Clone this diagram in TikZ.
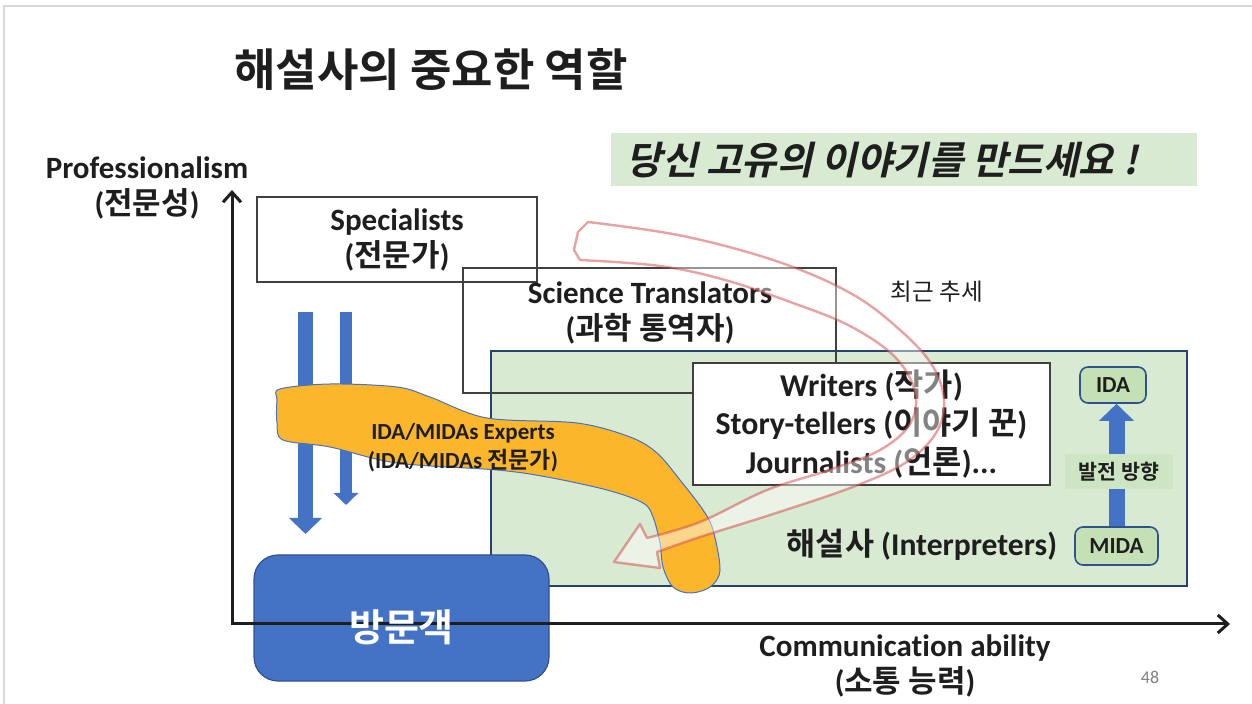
\documentclass[tikz,border=0pt]{standalone}
\usepackage{fontspec}
\setmainfont{Carlito}[Ligatures=NoCommon]
\newfontfamily\kor{Noto Sans CJK KR}[BoldFont={Noto Sans CJK KR Bold}]
\newfontfamily\korit{Noto Sans CJK KR}[BoldFont={Noto Sans CJK KR Bold},FakeSlant=0.22]
\usetikzlibrary{arrows.meta,positioning}
\definecolor{slidegreen}{RGB}{217,234,211}
\definecolor{pillgreen}{RGB}{197,224,180}
\definecolor{tagreen}{RGB}{205,229,194}
\definecolor{navy}{RGB}{47,82,143}
\definecolor{ppblue}{RGB}{68,114,196}
\definecolor{blobfill}{RGB}{251,182,43}
\definecolor{ink}{RGB}{30,30,30}
\definecolor{arcred}{RGB}{210,70,70}
\begin{document}
\begin{tikzpicture}[x=0.5pt,y=-0.5pt,
    lbl/.style={font=\bfseries\fontsize{15.5}{18}\selectfont, align=center, text=ink, inner sep=0},
    tbox/.style={draw=ink!85, line width=0.6pt, inner sep=0},
    pill/.style={draw=navy, line width=0.8pt, fill=pillgreen, rounded corners=4pt, inner sep=0,
        font=\bfseries\fontsize{11.5}{13}\selectfont, text=ink},
    axis/.style={ink, line width=1.5pt, line join=miter},
    downarrow/.style={ppblue, line width=#1}]
\useasboundingbox (0,0) rectangle (1252,704);
\draw[gray!30, line width=0.8pt] (4,704) -- (4,6) -- (1252,6); % frame

\node[text=ink, font=\kor\bfseries\fontsize{22.5}{26}\selectfont] (title) at (431,70) {해설사의 중요한 역할}; % title
\node[fill=slidegreen, minimum width=293pt, minimum height=26.5pt, inner sep=0] (banner) at (904,159.5) {}; % banner
\node[text=ink, font=\korit\bfseries\fontsize{19.3}{21}\selectfont] (motto) at (882,160) {당신 고유의 이야기를 만드세요 !}; % banner

\node[lbl] (ylabel) at (147,188) {Professionalism\\({\kor 전문성})}; % y axis

\node[tbox, lbl, fill=white, minimum width=140pt, minimum height=42.5pt] (spec) at (397,239.5) {Specialists\\({\kor 전문가})}; % box.1
\node[tbox, draw=navy!80!black, fill=slidegreen, minimum width=348pt, minimum height=117.5pt] (interp) at (839,468.5) {}; % box.3
\node[tbox, minimum width=186.5pt, minimum height=62.5pt] (sci) at (649.5,330.5) {}; % box.2
\node[lbl] (scitext) at (650,313) {Science Translators\\({\kor 과학 통역자})}; % box.2
\node[tbox, lbl, fill=white, minimum width=178.5pt, minimum height=61pt,
    font=\bfseries\fontsize{15.9}{19.2}\selectfont] (writers) at (871.5,424)
    {Writers ({\kor 작가})\\Story-tellers ({\kor 이야기 꾼})\\Journalists ({\kor 언론})...}; % box.4
\node[lbl, font=\bfseries\fontsize{15.8}{19}\selectfont] (interptext) at (922,545) {{\kor 해설사} (Interpreters)}; % box.3

\node[pill, minimum width=33pt, minimum height=18pt] (ida) at (1113,385) {IDA}; % pill.1
\node[pill, minimum width=41.5pt, minimum height=19pt] (mida) at (1116.5,546) {MIDA}; % pill.2
\draw[ppblue, line width=8pt, -{Triangle[length=8.5pt,width=17pt]}] (mida.north) -- (mida.north |- ida.south); % growth
\node[fill=tagreen, minimum width=54pt, minimum height=17.5pt, inner sep=0, text=ink,
    font=\kor\bfseries\fontsize{10.3}{12}\selectfont] (growth) at (1119,472) {발전 방향}; % growth

\coordinate (d1s) at (305.5,312); \coordinate (d1e) at (305.5,534);
\coordinate (d2s) at (346,312); \coordinate (d2e) at (346,505);
\draw[downarrow=7.5pt, -{Triangle[length=8pt,width=16pt]}] (d1s) -- (d1e) ; % down.1
\draw[downarrow=6pt, -{Triangle[length=6pt,width=12pt]}] (d2s) -- (d2e) ; % down.2

\draw[fill=blobfill, draw=ppblue, line width=0.5pt] plot[smooth cycle, tension=0.55] coordinates {
    (280,389) (330,384) (397,387) (430,397) (487,418) (577,423) (630,437) (657,453)
    (680,480) (703,510) (713,530) (720,570) (710,587) (690,593) (673,587) (663,567)
    (660,543) (653,517) (643,503) (607,490) (547,477) (497,470) (397,463) (330,447)
    (283,440) (277,423) (277,400)}; % blob
\node[lbl, font=\bfseries\fontsize{11.5}{14.5}\selectfont] (experts) at (463,447.5)
    {IDA/MIDAs Experts\\(IDA/MIDAs {\kor 전문가})}; % blob

\node[fill=ppblue, draw=navy, line width=0.6pt, rounded corners=12pt, minimum width=147.5pt, minimum height=63pt] (visitor) at (401.5,618) {}; % visitor

\coordinate (O) at (232,624);
\coordinate (ytop) at (232,190);
\coordinate (xend) at (1230,624);
\draw[axis, {Straight Barb[length=5pt,width=9pt]}-{Straight Barb[length=5pt,width=9pt]}] (ytop) -- (O) -- (xend); % axes

\node[text=white, font=\kor\bfseries\fontsize{19}{22}\selectfont] (vtext) at (visitor.center) [yshift=-4.5pt] {방문객}; % visitor

\node[lbl] (xlabel) at (905,665.5) {Communication ability\\({\kor 소통 능력})}; % x axis
\node[text=gray, font=\fontsize{9}{10}\selectfont] (pageno) at (1150,677) {48}; % page
\node[text=ink, font=\kor\fontsize{11.8}{13}\selectfont] (trend) at (937,292) {최근 추세}; % trend

\draw[fill=white, fill opacity=0.45, draw=arcred, draw opacity=0.5, line width=1.2pt, line join=round]
    (588,222) -- plot[smooth, tension=0.6] coordinates {(588,222) (683,236) (779,262) (852,294) (900,330) (932,365)
        (944,400) (936,433) (905,463) (850,488) (770,515) (700,537) (657,552)}
    -- (660,568) -- (614,562) -- (640,524) -- (647,538)
    -- plot[smooth, tension=0.6] coordinates {(647,538) (700,522) (767,490) (829,470) (880,450) (910,424)
        (915,392) (895,357) (850,326) (793,303) (725,280) (660,266) (580,260)}
    -- (574,250) -- (578,232) -- cycle; % trend arc
\end{tikzpicture}
\end{document}
